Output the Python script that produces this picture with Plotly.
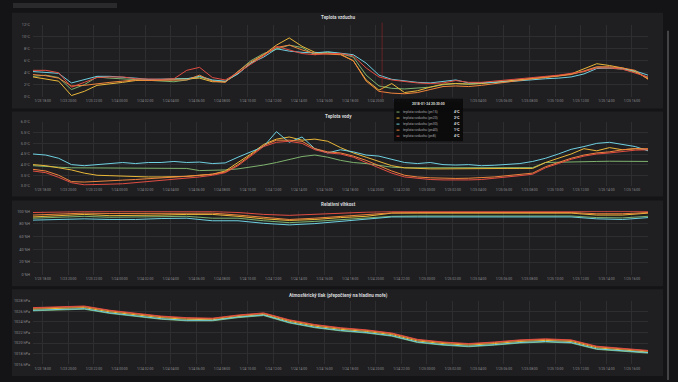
import plotly.graph_objects as go
import pandas as pd

W, H = 678, 382

# ---------------- data ----------------
t_hourly = pd.date_range("2018-01-23 17:15", periods=49, freq="h")
t_2h = pd.date_range("2018-01-23 17:15", periods=25, freq="2h")

series_names = ["pn15", "pn20", "pn30", "pn40", "pn8"]
series_colors = ["#7EB26D", "#EAB839", "#6ED0E0", "#EF843C", "#E24D42"]

# Teplota vzduchu (°C), hourly
air_green = [3.4,3.6,3.2,1.2,2.0,3.3,3.1,3.0,2.8,2.7,2.6,2.5,2.8,3.3,2.7,2.5,4.2,6.0,7.2,7.9,8.6,8.2,7.0,7.4,7.2,
             6.6,3.6,1.8,1.4,1.3,1.4,1.6,2.0,2.2,2.1,2.2,2.4,2.6,2.8,3.0,3.2,3.5,3.8,4.2,4.9,4.8,4.6,4.1,3.2]
air_yellow = [3.3,3.0,2.6,0.2,0.9,1.9,2.1,2.4,2.7,2.8,2.8,2.9,3.0,3.1,2.5,2.5,3.9,5.6,7.0,8.6,9.8,8.4,7.4,7.2,7.1,
              6.0,2.8,1.1,2.2,0.7,1.0,1.6,2.1,2.2,2.1,2.2,2.4,2.6,2.8,3.0,3.2,3.5,3.8,4.6,5.5,5.2,4.8,4.2,3.0]
air_blue = [4.2,4.1,3.9,2.3,2.8,3.4,3.4,3.3,3.1,2.9,2.9,2.9,3.0,3.4,2.8,2.6,3.8,5.6,6.6,8.0,7.6,7.4,7.3,7.5,7.3,
            7.0,5.6,3.6,2.9,2.6,2.4,2.3,2.5,2.8,2.3,2.3,2.4,2.5,2.7,2.9,3.0,3.1,3.3,3.8,4.7,4.8,4.7,4.3,3.6]
air_orange = [3.7,3.5,3.1,1.8,1.9,2.2,2.4,2.6,2.8,2.7,2.7,2.8,2.8,3.6,2.6,2.4,4.2,5.8,7.0,8.2,8.6,7.8,7.2,7.1,7.0,
              6.0,2.6,0.9,0.6,0.5,0.7,1.2,1.7,1.8,1.7,1.9,2.2,2.5,2.7,3.0,3.2,3.4,3.7,4.3,5.0,5.0,4.8,4.4,2.9]
air_red = [4.4,4.4,4.0,1.6,2.4,3.2,3.3,3.3,3.0,2.9,2.9,3.0,4.4,4.9,3.2,2.8,4.0,5.4,6.8,8.4,7.8,7.2,7.0,7.2,7.2,
           6.8,4.8,3.3,2.8,2.5,2.3,2.2,2.3,2.7,2.4,2.4,2.6,2.7,2.9,3.2,3.4,3.6,3.9,4.2,4.8,4.8,4.6,4.0,3.3]

# Teplota vody (°C), hourly
water_green = [3.95,3.90,3.88,3.85,3.85,3.85,3.85,3.83,3.83,3.83,3.83,3.83,3.82,3.72,3.72,3.75,3.80,3.88,3.98,4.10,
               4.25,4.38,4.45,4.35,4.20,4.10,4.05,3.95,3.88,3.85,3.85,3.85,3.84,3.84,3.85,3.85,3.84,3.85,3.85,3.86,
               4.10,4.12,4.14,4.15,4.15,4.16,4.16,4.16,4.15]
water_yellow = [4.00,3.95,3.85,3.75,3.60,3.50,3.48,3.45,3.43,3.42,3.42,3.43,3.45,3.50,3.55,3.70,4.10,4.50,4.95,5.20,
                5.30,5.15,5.20,5.10,4.80,4.55,4.35,4.15,3.95,3.85,3.82,3.80,3.80,3.81,3.80,3.82,3.81,3.82,3.82,3.82,
                4.10,4.30,4.50,4.75,4.65,4.80,4.70,4.75,4.70]
water_blue = [4.50,4.45,4.30,4.00,3.95,4.00,4.05,4.10,4.05,4.10,4.10,4.15,4.10,4.12,4.05,4.08,4.35,4.60,4.85,5.55,
              5.05,5.30,4.75,4.55,4.70,4.60,4.45,4.40,4.25,4.10,4.05,4.10,4.00,3.98,4.00,3.95,3.97,4.00,4.05,4.15,
              4.30,4.50,4.72,4.85,5.00,5.05,4.95,4.85,4.65]
water_orange = [3.78,3.70,3.50,3.20,3.18,3.22,3.25,3.27,3.30,3.33,3.36,3.40,3.45,3.50,3.55,3.65,4.00,4.45,4.90,5.15,
                5.15,5.10,4.75,4.60,4.55,4.40,4.20,3.95,3.70,3.50,3.42,3.38,3.36,3.35,3.36,3.38,3.42,3.48,3.55,3.60,
                3.90,4.10,4.30,4.45,4.55,4.60,4.70,4.75,4.75]
water_red = [3.70,3.62,3.40,3.15,3.05,3.05,3.08,3.10,3.15,3.20,3.25,3.30,3.35,3.42,3.50,3.62,3.95,4.40,4.85,5.05,
             5.10,5.00,4.70,4.55,4.50,4.35,4.10,3.85,3.60,3.42,3.35,3.30,3.28,3.27,3.28,3.30,3.35,3.40,3.48,3.55,
             3.85,4.05,4.25,4.40,4.50,4.55,4.62,4.68,4.70]

# Relativní vlhkost (%H), every 2 h
hum_green = [89,90,92,90.5,91,92,92,89,89,85,82,84,87,89,92,92.5,92.5,92.5,92.5,92.5,92.5,92.5,90,89.5,92]
hum_yellow = [91,93,95,93,93,94,95,95,92,88,85.5,87,90,92,97,97,97,97,97,97,97,97,94,94,97]
hum_blue = [86,86.5,88,87,87,88.5,89,85,85,81,78.5,80.5,84,87,91,91,91,91,91,91,91,91,88,87,90]
hum_orange = [94,96,97,96.5,96.5,97,97,97,94,90,87,89,92,95,97.5,98,98,98,98,98,98,98,96,96,98]
hum_red = [98,99,99.5,99.5,99.5,99.5,99.5,99.5,98,95,93.5,95.5,97.5,98.5,99.5,99.5,99.5,99.5,99.5,99.5,99.5,99.5,98.5,98.5,99.5]

# Atmosférický tlak (hPa), every 2 h
pres_green = [1026.1,1026.3,1026.4,1025.6,1025.0,1024.5,1024.2,1024.2,1024.8,1025.2,1023.8,1022.9,1022.3,1021.9,1021.3,
              1020.1,1019.6,1019.3,1019.6,1020.0,1020.2,1020.0,1018.8,1018.4,1018.1]
pres_yellow = [1026.4,1026.6,1026.7,1025.9,1025.3,1024.8,1024.5,1024.4,1025.0,1025.4,1024.1,1023.2,1022.6,1022.2,1021.6,
               1020.4,1019.9,1019.6,1019.9,1020.3,1020.5,1020.3,1019.1,1018.7,1018.3]
pres_blue = [1026.2,1026.4,1026.5,1025.7,1025.1,1024.6,1024.3,1024.3,1024.9,1025.3,1023.9,1023.0,1022.4,1022.0,1021.4,
             1020.2,1019.7,1019.4,1019.7,1020.1,1020.3,1020.1,1018.9,1018.5,1018.2]
pres_orange = [1026.6,1026.8,1026.9,1026.1,1025.5,1025.0,1024.7,1024.6,1025.2,1025.6,1024.3,1023.4,1022.8,1022.4,1021.8,
               1020.6,1020.1,1019.8,1020.1,1020.5,1020.7,1020.5,1019.3,1018.9,1018.5]
pres_red = [1026.7,1026.9,1027.0,1026.2,1025.6,1025.1,1024.8,1024.7,1025.3,1025.7,1024.4,1023.5,1022.9,1022.5,1021.9,
            1020.7,1020.2,1019.9,1020.2,1020.6,1020.8,1020.6,1019.4,1019.0,1018.6]

panel_titles = ["Teplota vzduchu", "Teplota vody", "Relativní vlhkost",
                "Atmosférický tlak (přepočtený na hladinu moře)"]

tooltip_time = "2018-01-24 20:30:00"
tooltip_labels = ["teplota vzduchu (pn15)", "teplota vzduchu (pn20)", "teplota vzduchu (pn30)",
                  "teplota vzduchu (pn40)", "teplota vzduchu (pn8)"]
tooltip_values = ["4°C", "2°C", "4°C", "1°C", "4°C"]

x_range = ["2018-01-23 17:15", "2018-01-25 17:15"]
crosshair_time = "2018-01-24 20:30"

# ---------------- style ----------------
BG = "#141416"
PANEL = "#1f1f22"
GRID = "#2e2e31"
TICK = "#8a8a8c"
TITLE = "#d8d9da"
FONT = "Roboto"

def px(x):
    return x / W

def py(y):
    return 1 - y / H

panels = [
    # (series lists, x values, y range, dtick, suffix, format, plot top px, plot bottom px, panel top, panel bottom, title y)
    ([air_green, air_yellow, air_blue, air_orange, air_red], t_hourly, [0, 12], 2, "°C", "d", 22, 95, 10, 107, 15),
    ([water_green, water_yellow, water_blue, water_orange, water_red], t_hourly, [3, 6], 0.5, "°C", ".1f", 120.7, 185.3, 110, 196, 115.5),
    ([hum_green, hum_yellow, hum_blue, hum_orange, hum_red], t_2h, [0, 100], 20, " %H", "d", 211, 275.3, 200, 287, 204.5),
    ([pres_green, pres_yellow, pres_blue, pres_orange, pres_red], t_2h, [1016, 1028], 2, " hPa", "d", 301.7, 366, 290, 378, 296),
]

fig = go.Figure()
layout = dict(
    width=W, height=H, margin=dict(l=0, r=0, t=0, b=0),
    paper_bgcolor=BG, plot_bgcolor="rgba(0,0,0,0)",
    showlegend=False, hovermode=False,
    font=dict(family=FONT, color=TICK, size=4),
)
shapes = []
annotations = []

# top strip
shapes.append(dict(type="rect", xref="paper", yref="paper", x0=px(13), x1=px(117), y0=py(5), y1=py(0),
                   fillcolor="#2a2a2d", line=dict(width=0), layer="below"))
# scrollbar
shapes.append(dict(type="rect", xref="paper", yref="paper", x0=px(667), x1=px(669), y0=py(382), y1=py(28),
                   fillcolor="#444447", line=dict(width=0), layer="below"))

for i, (series, tx, yr, dt, suf, fmt, ytop, ybot, ptop, pbot, ty) in enumerate(panels):
    n = "" if i == 0 else str(i + 1)
    xname, yname = "x" + n, "y" + n
    for vals, name, col in zip(series, series_names, series_colors):
        fig.add_trace(go.Scatter(x=tx, y=vals, mode="lines", name=name,
                                 line=dict(color=col, width=1), xaxis=xname, yaxis=yname))
    layout["xaxis" + n] = dict(
        domain=[px(33), px(648)], anchor=yname, type="date", range=x_range,
        tick0="2018-01-23 18:00", dtick=7200000, tickformat="%-m/%d %H:%M",
        tickfont=dict(size=3.4, color=TICK, family=FONT), showgrid=True, gridcolor=GRID, gridwidth=0.6,
        zeroline=False, showline=False, ticks="", ticklabelstandoff=1,
    )
    layout["yaxis" + n] = dict(
        domain=[py(ybot), py(ytop)], anchor=xname, range=yr, dtick=dt, tick0=yr[0],
        ticksuffix=suf, tickformat=fmt,
        tickfont=dict(size=3.8, color=TICK, family=FONT), showgrid=True, gridcolor=GRID, gridwidth=0.6,
        zeroline=False, showline=False, ticks="", ticklabelstandoff=2,
    )
    shapes.append(dict(type="rect", xref="paper", yref="paper", x0=px(12), x1=px(663), y0=py(pbot), y1=py(ptop),
                       fillcolor=PANEL, line=dict(width=0), layer="below"))
    annotations.append(dict(text="<b>" + panel_titles[i] + "</b>", xref="paper", yref="paper",
                            x=px(338), y=py(ty), showarrow=False, xanchor="center", yanchor="middle",
                            font=dict(size=4.6, color=TITLE, family=FONT)))

# crosshair in first panel
shapes.append(dict(type="line", xref="x", yref="paper", x0=crosshair_time, x1=crosshair_time,
                   y0=py(97), y1=py(20), line=dict(color="rgba(170,40,40,0.7)", width=0.7)))

# tooltip
shapes.append(dict(type="rect", xref="paper", yref="paper", x0=px(394), x1=px(463), y0=py(140), y1=py(97),
                   fillcolor="rgba(10,10,11,0.93)", line=dict(width=0)))
annotations.append(dict(text="<b>" + tooltip_time + "</b>", xref="paper", yref="paper", x=px(428), y=py(102.3),
                        showarrow=False, xanchor="center", yanchor="middle",
                        font=dict(size=3.4, color="#d8d9da", family=FONT)))
for k, (lab, val, col) in enumerate(zip(tooltip_labels, tooltip_values, series_colors)):
    yy = 110.5 + 6.1 * k
    shapes.append(dict(type="line", xref="paper", yref="paper", x0=px(396.5), x1=px(399.5), y0=py(yy), y1=py(yy),
                       line=dict(color=col, width=1)))
    annotations.append(dict(text=lab, xref="paper", yref="paper", x=px(400.5), y=py(yy), showarrow=False,
                            xanchor="left", yanchor="middle", font=dict(size=3.4, color="#a8a8aa", family=FONT)))
    annotations.append(dict(text="<b>" + val + "</b>", xref="paper", yref="paper", x=px(452), y=py(yy),
                            showarrow=False, xanchor="left", yanchor="middle",
                            font=dict(size=3.4, color="#e0e0e0", family=FONT)))

layout["shapes"] = shapes
layout["annotations"] = annotations
fig.update_layout(**layout)
fig.write_html("out.html")
